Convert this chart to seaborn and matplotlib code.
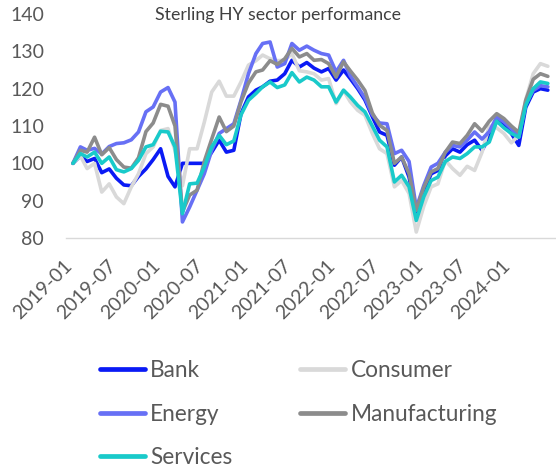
import numpy as np
import pandas as pd
import matplotlib
matplotlib.use("Agg")
import matplotlib.pyplot as plt
import matplotlib.dates as mdates
import matplotlib.transforms as mtransforms
import seaborn as sns

# ---- data (monthly index levels) ----
start_month = "2019-01-01"
sectors = ["Bank", "Consumer", "Energy", "Manufacturing", "Services"]

bank = [100, 102, 100.5, 101.3, 97.5, 98.5, 96, 94.2, 94, 96.5,
        98.5, 101, 103.9, 96.5, 93.7, 100, 100, 100, 100, 103,
        106.2, 103, 103.5, 113.3, 117.8, 119.6, 120.5, 122, 122.3, 124,
        127.6, 125.8, 127, 125.5, 124.5, 125.4, 122.3, 125, 122.7, 120,
        117, 112.5, 108.4, 107.5, 99.5, 101.7, 96.3, 87, 92.5, 97.2,
        98.1, 102, 103.9, 103, 105, 106.2, 103.5, 107, 111.5, 110.2,
        108, 104.8, 115, 119.1, 120, 119.6]

consumer = [100, 102, 98.6, 100, 92.3, 94.5, 91, 89.2, 93.7, 97.2,
            102.6, 104.4, 108.8, 109.3, 103.5, 94, 103.9, 103.9, 111, 119.1,
            122, 118, 118, 121.8, 126.3, 127.5, 129, 128, 127.5, 127.6,
            129.4, 124.8, 124.5, 124, 122.3, 122.7, 116, 119.5, 116.5, 114.2,
            112.9, 108, 103.9, 102.6, 93.7, 95.4, 91.9, 81.6, 88.5, 93.7,
            94.5, 100.8, 98.6, 96.8, 99.2, 98.1, 103, 110, 109.5, 108,
            105.5, 107.5, 117, 124, 126.7, 126]

energy = [100, 104.4, 103.5, 104, 102.5, 104.5, 105.3, 105.5, 106.3, 108.4,
          113.8, 115.1, 119.1, 120.3, 116.4, 84.3, 88.3, 92.8, 97.2, 103.5,
          108, 109.3, 110.6, 116.9, 124, 129.4, 132.1, 132.5, 125.8, 126.7,
          132.1, 130.3, 131.4, 130.3, 129.4, 129, 124.5, 127.6, 123.5, 120.5,
          117.5, 113, 110.8, 110.6, 102.6, 103.5, 100.5, 88, 94, 99,
          100, 103, 104.8, 104.4, 106.2, 108.4, 106.5, 108.5, 112.4, 111.1,
          109.3, 107, 116, 119.5, 120.8, 120.5]

manufacturing = [100, 103.5, 103, 107, 102.3, 104.2, 101, 99, 98.7, 101.5,
                 108.5, 110.8, 115.8, 115.3, 110, 87, 91.5, 92.8, 100.5, 106.5,
                 112.4, 108.5, 110, 116.5, 121.5, 124.5, 125, 127.5, 126.5, 128,
                 130.8, 128.5, 129.4, 127.6, 127.8, 126.7, 123.1, 127.2, 124.8, 122.3,
                 119.5, 113.5, 110.2, 108.8, 100, 101.7, 97.2, 87.4, 93.5, 97.7,
                 98.6, 103, 105.7, 105.3, 107.5, 110.6, 108.6, 111.3, 113.3, 112,
                 110, 108.3, 116.9, 122.5, 124, 123.3]

services = [100, 102.6, 101.7, 103, 100, 101.7, 98.3, 97.7, 98.6, 100.8,
            104.4, 105, 108.6, 108.4, 104.4, 86.5, 94.5, 94.7, 99, 104.4,
            107.5, 105, 106, 113, 116.9, 118.7, 120.5, 121.8, 120.3, 121,
            124.3, 121.8, 123.1, 122.3, 120.5, 120.5, 116.4, 119.6, 117.8, 115.5,
            113.8, 110, 106.2, 104.4, 95, 96.8, 93.7, 84.7, 91, 95.4,
            96.3, 100.5, 101.7, 101.3, 102.6, 104.4, 104.4, 105.7, 111.3, 109.5,
            108, 107, 115.5, 120, 121.8, 121.4]

yticks = [80, 90, 100, 110, 120, 130, 140]
xtick_labels_every = "6MS"
title = "Sterling HY sector performance"

colors = {"Bank": "#0A1AF5", "Consumer": "#D9D9D9", "Energy": "#6770F5",
          "Manufacturing": "#8C8C8C", "Services": "#19CACA"}

# ---- long-form table ----
values = {"Bank": bank, "Consumer": consumer, "Energy": energy,
          "Manufacturing": manufacturing, "Services": services}
dates = pd.date_range(start_month, periods=len(bank), freq="MS")
df = pd.concat([pd.DataFrame({"date": dates, "value": values[s], "sector": s})
                for s in sectors], ignore_index=True)

# ---- plot ----
sns.set_theme(style="white")
plt.rcParams["font.family"] = ["Lato", "DejaVu Sans"]

W, H = 556, 474
FS_LEG = 16.3
FS_TICK = 14.0
fig = plt.figure(figsize=(W / 100, H / 100), dpi=100)
ax = fig.add_axes([66 / W, 1 - 238 / H, (556 - 66) / W, (238 - 14) / H])

sns.lineplot(data=df, x="date", y="value", hue="sector", hue_order=sectors,
             palette=colors, linewidth=2.6, ax=ax, legend=True)

ax.set_ylim(80, 140)
ax.set_yticks(yticks)
ax.set_xlim(dates[0] - pd.Timedelta(days=29), dates[-1] + pd.Timedelta(days=34))
ax.set_xticks(pd.date_range(dates[0], "2024-01-01", freq=xtick_labels_every))
ax.xaxis.set_major_formatter(mdates.DateFormatter("%Y-%m"))
ax.set_xlabel("")
ax.set_ylabel("")

for s in ["top", "right", "left"]:
    ax.spines[s].set_visible(False)
ax.spines["bottom"].set_color("#D9D9D9")
ax.spines["bottom"].set_linewidth(1.0)

ax.tick_params(axis="both", length=0, labelsize=FS_TICK, labelcolor="#595959")
ax.tick_params(axis="y", pad=15.8)
ax.tick_params(axis="x", pad=13.5)
offset = mtransforms.ScaledTranslation(2.5 / 100, 0, fig.dpi_scale_trans)
for lab in ax.get_xticklabels():
    lab.set_rotation(45)
    lab.set_ha("right")
    lab.set_va("top")
    lab.set_rotation_mode("default")
    lab.set_transform(lab.get_transform() + offset)

# legend below the chart, row-wise order
handles, labels = ax.get_legend_handles_labels()
ax.get_legend().remove()
hmap = dict(zip(labels, handles))
order = ["Bank", "Energy", "Services", "Consumer", "Manufacturing"]
leg = fig.legend([hmap[k] for k in order], order, loc="upper left",
                 bbox_to_anchor=(100 / W, 1 - 360 / H), ncol=2, frameon=False,
                 fontsize=FS_LEG, handlelength=1.97, handletextpad=0.25,
                 columnspacing=3.0, labelspacing=1.0, borderpad=0,
                 borderaxespad=0)
for t in leg.get_texts():
    t.set_color("#595959")
for h in leg.get_lines():
    h.set_linewidth(3.4)

fig.text(0.5, 1 - 15 / H, title, ha="center", va="center",
         fontsize=12.8, color="#404040")

fig.savefig("out.png", dpi=100)
